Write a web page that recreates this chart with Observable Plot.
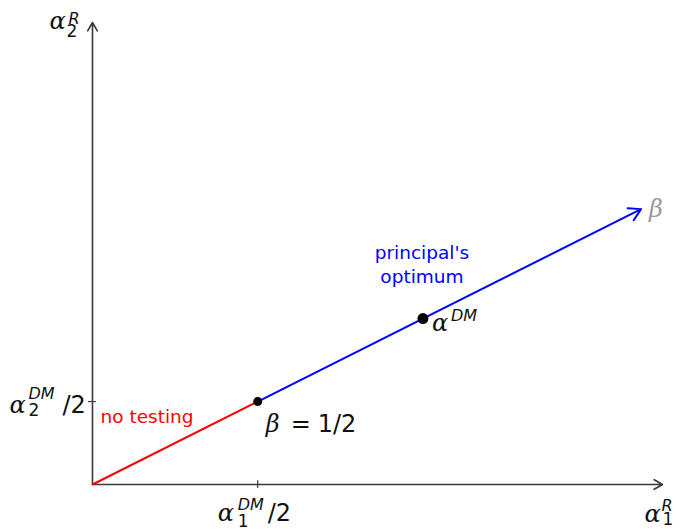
<!DOCTYPE html>
<html>
<head>
<meta charset="utf-8">
<script src="https://cdn.jsdelivr.net/npm/d3@7"></script>
<script src="https://cdn.jsdelivr.net/npm/@observablehq/plot@0.6"></script>
<style>
  html, body { margin: 0; padding: 0; background: #fff; }
  svg { overflow: visible; }
</style>
</head>
<body>
<div id="chart"></div>
<script>
// ---- data (in units of alpha^DM / 2) ----
const axisEnd = {x: 3.45, y: 5.57};          // arrow tips of the two axes
const origin = {x: 0, y: 0};
const betaHalf = {x: 1, y: 1};               // beta = 1/2
const alphaDM = {x: 2, y: 2};                // alpha^DM (principal's optimum)
const rayEnd = {x: 3.32, y: 3.32};           // end of the beta ray
const xTicks = [1];
const yTicks = [1];
const textNoTesting = "no testing";
const textOptimum = "principal's\noptimum";

const axisColor = "#3d3545";
const mathFont = "DejaVu Serif";
const sansFont = "DejaVu Sans";

function part(anchor, text, o) {
  return Plot.text([anchor], {
    x: "x", y: "y", text: () => text,
    dx: o.dx, dy: o.dy,
    fontSize: o.size || 24,
    fontFamily: o.family || sansFont,
    fontStyle: o.style || "normal",
    fill: o.fill || "#111",
    textAnchor: o.anchor || "start",
    lineAnchor: "bottom",
    lineHeight: o.lineHeight || 1
  });
}
const greek = (a, t, dx, dy, fill) => part(a, t, {dx, dy, family: mathFont, style: "italic", size: 24, fill});
const script = (a, t, dx, dy) => part(a, t, {dx, dy, style: "italic", size: 16});

const yTop = {x: 0, y: axisEnd.y};
const xRight = {x: axisEnd.x, y: 0};
const yTick = {x: 0, y: yTicks[0]};
const xTick = {x: xTicks[0], y: 0};

const chart = Plot.plot({
  width: 680,
  height: 529,
  marginLeft: 92,
  marginRight: 18,
  marginTop: 22,
  marginBottom: 45,
  x: {domain: [0, axisEnd.x], axis: null},
  y: {domain: [0, axisEnd.y], axis: null},
  marks: [
    // axes
    Plot.arrow([origin], {x1: "x", y1: "y", x2: () => axisEnd.x, y2: () => 0,
      stroke: axisColor, strokeWidth: 1.6, headLength: 9, headAngle: 60}),
    Plot.arrow([origin], {x1: "x", y1: "y", x2: () => 0, y2: () => axisEnd.y,
      stroke: axisColor, strokeWidth: 1.6, headLength: 9, headAngle: 60}),
    Plot.ruleX(xTicks, {y1: -0.045, y2: 0.045, stroke: axisColor, strokeWidth: 1.2}),
    Plot.ruleY(yTicks, {x1: -0.024, x2: 0.024, stroke: axisColor, strokeWidth: 1.2}),
    // ray
    Plot.link([origin], {x1: "x", y1: "y", x2: () => betaHalf.x, y2: () => betaHalf.y,
      stroke: "#ff0000", strokeWidth: 2}),
    Plot.arrow([betaHalf], {x1: "x", y1: "y", x2: () => rayEnd.x, y2: () => rayEnd.y,
      stroke: "#0000ff", strokeWidth: 2, headLength: 10, headAngle: 60}),
    Plot.dot([betaHalf], {x: "x", y: "y", r: 4.5, fill: "#000"}),
    Plot.dot([alphaDM], {x: "x", y: "y", r: 5.5, fill: "#000"}),

    // y-axis label alpha_2^R
    greek(yTop, "α", -43, 6),
    script(yTop, "R", -24, 1),
    part(yTop, "2", {dx: -26, dy: 14, size: 17}),

    // x-axis label alpha_1^R
    greek(xRight, "α", -18, 37),
    script(xRight, "R", -1, 26),
    part(xRight, "1", {dx: 0, dy: 40, size: 17}),

    // y tick label alpha_2^DM / 2
    greek(yTick, "α", -83, 11),
    script(yTick, "DM", -64, -3),
    part(yTick, "2", {dx: -64, dy: 14, size: 17}),
    part(yTick, "/2", {dx: -30, dy: 11}),

    // x tick label alpha_1^DM / 2
    greek(xTick, "α", -40, 36),
    script(xTick, "DM", -20, 25),
    part(xTick, "1", {dx: -20, dy: 42, size: 17}),
    part(xTick, "/2", {dx: 10, dy: 36}),

    // beta = 1/2
    greek(betaHalf, "β", 8, 30),
    part(betaHalf, "=", {dx: 33, dy: 30}),
    part(betaHalf, "1/2", {dx: 60, dy: 30}),

    // alpha^DM
    greek(alphaDM, "α", 9, 12),
    script(alphaDM, "DM", 28, 2),

    // beta at ray end
    greek(rayEnd, "β", 8, 8, "#999"),

    // annotations
    part(yTick, textNoTesting, {dx: 8, dy: 21, size: 18.5, fill: "#ff0000"}),
    part(alphaDM, textOptimum, {dx: -1, dy: -36, size: 18.5, fill: "#0000ff", anchor: "middle", lineHeight: 1.3})
  ]
});
document.getElementById("chart").appendChild(chart);
</script>
</body>
</html>
